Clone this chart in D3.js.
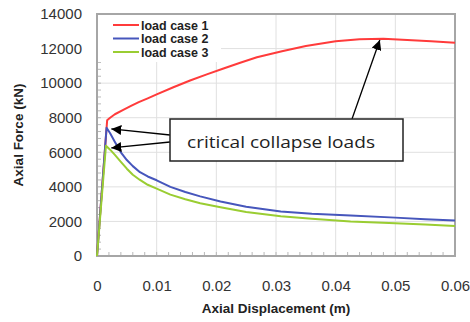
<!DOCTYPE html>
<html><head><meta charset="utf-8">
<script src="https://cdn.jsdelivr.net/npm/d3@7"></script>
<style>body{margin:0;background:#fff}svg{display:block}</style>
</head><body>
<script>
const seriesNames = ["load case 1", "load case 2", "load case 3"];
const seriesColors = ["#ff3b3b", "#4656bc", "#9acd32"];
const case1 = [[0,0],[0.0017,7850],[0.0022,8000],[0.003,8200],[0.0044,8450],[0.0057,8680],[0.007,8900],[0.0085,9120],[0.01,9350],[0.0128,9760],[0.0156,10150],[0.0184,10510],[0.0212,10850],[0.024,11180],[0.0268,11500],[0.031,11850],[0.035,12150],[0.04,12430],[0.044,12540],[0.048,12570],[0.052,12500],[0.056,12420],[0.06,12330]];
const case2 = [[0,0],[0.0016,7420],[0.0022,7100],[0.003,6600],[0.004,6000],[0.005,5550],[0.006,5200],[0.0072,4850],[0.0085,4600],[0.01,4380],[0.0123,4000],[0.0148,3700],[0.0173,3450],[0.0207,3150],[0.025,2850],[0.0308,2580],[0.036,2450],[0.0425,2350],[0.05,2220],[0.055,2130],[0.06,2060]];
const case3 = [[0,0],[0.0015,6380],[0.0022,6150],[0.003,5850],[0.004,5450],[0.005,5050],[0.006,4700],[0.0072,4400],[0.0085,4120],[0.01,3900],[0.0123,3550],[0.0148,3280],[0.0173,3050],[0.0207,2820],[0.025,2550],[0.0308,2300],[0.036,2150],[0.0425,2000],[0.05,1900],[0.055,1820],[0.06,1740]];
const xTicks = [0, 0.01, 0.02, 0.03, 0.04, 0.05, 0.06];
const yTicks = [0, 2000, 4000, 6000, 8000, 10000, 12000, 14000];
const annotationText = "critical collapse loads";
const xTitle = "Axial Displacement (m)";
const yTitle = "Axial Force (kN)";

const W = 470, H = 322;
const L = 97, R = 455, T = 14, B = 256;
const svg = d3.select("body").append("svg").attr("width", W).attr("height", H);
const x = d3.scaleLinear().domain([0, 0.06]).range([L, R]);
const y = d3.scaleLinear().domain([0, 14000]).range([B, T]);

// gridlines
svg.append("g").selectAll("line.gx").data(xTicks.slice(1, -1)).join("line")
  .attr("x1", d => x(d)).attr("x2", d => x(d)).attr("y1", T).attr("y2", B)
  .attr("stroke", "#e0e0e0").attr("stroke-width", 1);
svg.append("g").selectAll("line.gy").data(yTicks.slice(1, -1)).join("line")
  .attr("y1", d => y(d)).attr("y2", d => y(d)).attr("x1", L).attr("x2", R)
  .attr("stroke", "#e0e0e0").attr("stroke-width", 1);

// minor ticks
const xMinor = d3.range(0, 0.0601, 0.002);
const yMinor = d3.range(0, 14001, 400);
svg.append("g").selectAll("line").data(xMinor).join("line")
  .attr("x1", d => x(d)).attr("x2", d => x(d)).attr("y1", B).attr("y2", B - 4)
  .attr("stroke", "#b8b8b8");
svg.append("g").selectAll("line").data(yMinor).join("line")
  .attr("y1", d => y(d)).attr("y2", d => y(d)).attr("x1", L).attr("x2", L + 4)
  .attr("stroke", "#b8b8b8");

// legend white box
svg.append("rect").attr("x", L + 1).attr("y", T + 1).attr("width", 123).attr("height", 47).attr("fill", "#fff");

// frame
svg.append("rect").attr("x", L).attr("y", T).attr("width", R - L).attr("height", B - T)
  .attr("fill", "none").attr("stroke", "#a6a6a6").attr("stroke-width", 2);

// axes labels via d3 axes
const xAxis = svg.append("g").attr("transform", `translate(0,${B})`)
  .call(d3.axisBottom(x).tickValues(xTicks).tickSize(0).tickPadding(24).tickFormat(d => d === 0 ? "0" : d3.format(".2f")(d)));
const yAxis = svg.append("g").attr("transform", `translate(${L},0)`)
  .call(d3.axisLeft(y).tickValues(yTicks).tickSize(0).tickPadding(15).tickFormat(d3.format("d")));
[xAxis, yAxis].forEach(g => {
  g.select(".domain").remove();
  g.selectAll("text").attr("font-family", "Liberation Sans, Arial, sans-serif").attr("font-size", 15).attr("fill", "#333");
});

// lines
const line = d3.line().x(d => x(d[0])).y(d => y(d[1]));
const allSeries = [case1, case2, case3];
svg.append("g").selectAll("path").data(allSeries).join("path")
  .attr("d", line).attr("fill", "none").attr("stroke-linejoin", "round")
  .attr("stroke", (d, i) => seriesColors[i]).attr("stroke-width", 2);

// legend
const lg = svg.append("g");
seriesNames.forEach((n, i) => {
  const yy = 25 + i * 13.5;
  lg.append("line").attr("x1", 113).attr("x2", 139).attr("y1", yy).attr("y2", yy)
    .attr("stroke", seriesColors[i]).attr("stroke-width", 2);
  lg.append("text").attr("x", 141).attr("y", yy + 4.5).text(n)
    .attr("font-family", "Liberation Sans, Arial, sans-serif").attr("font-weight", "bold")
    .attr("font-size", 12.5).attr("fill", "#222");
});

// axis titles
svg.append("text").attr("x", 276).attr("y", 313).attr("text-anchor", "middle")
  .attr("font-family", "Liberation Sans, Arial, sans-serif").attr("font-weight", "bold")
  .attr("font-size", 13.5).attr("fill", "#222").text(xTitle);
svg.append("text").attr("transform", "translate(23,135) rotate(-90)").attr("text-anchor", "middle")
  .attr("font-family", "Liberation Sans, Arial, sans-serif").attr("font-weight", "bold")
  .attr("font-size", 13.5).attr("fill", "#222").text(yTitle);

// arrows
const defs = svg.append("defs");
defs.append("marker").attr("id", "ah").attr("viewBox", "0 0 10 10").attr("refX", 10).attr("refY", 5)
  .attr("markerWidth", 10).attr("markerHeight", 10).attr("markerUnits", "userSpaceOnUse").attr("orient", "auto")
  .append("path").attr("d", "M0,0 L10,5 L0,10 Z").attr("fill", "#000");
const arrows = [
  {x1: 170, y1: 135, tx: 0.0024, ty: 7350},
  {x1: 170, y1: 142, tx: 0.0024, ty: 6250},
  {x1: 352, y1: 119, tx: 0.0474, ty: 12500}
];
svg.append("g").selectAll("line").data(arrows).join("line")
  .attr("x1", d => d.x1).attr("y1", d => d.y1).attr("x2", d => x(d.tx)).attr("y2", d => y(d.ty))
  .attr("stroke", "#000").attr("stroke-width", 1.3).attr("marker-end", "url(#ah)");

// annotation box
svg.append("rect").attr("x", 170).attr("y", 119).attr("width", 233).attr("height", 42)
  .attr("fill", "#fff").attr("stroke", "#222").attr("stroke-width", 1.5);
svg.append("text").attr("x", 187).attr("y", 148).attr("textLength", 188).attr("lengthAdjust", "spacingAndGlyphs")
  .attr("font-family", "Open Sans, Liberation Sans, sans-serif").attr("font-size", 17).attr("fill", "#222")
  .text(annotationText);
</script>
</body></html>
